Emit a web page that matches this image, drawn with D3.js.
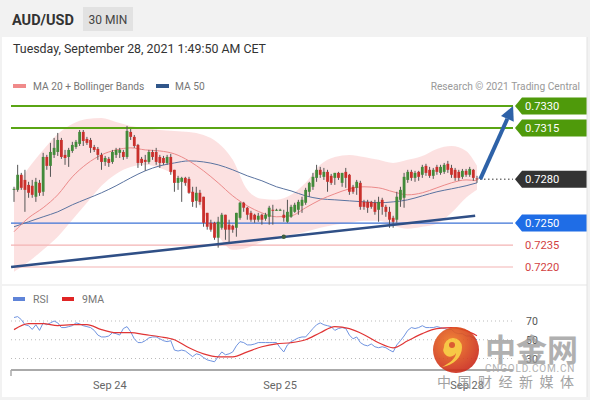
<!DOCTYPE html>
<html><head><meta charset="utf-8">
<script src="https://cdn.jsdelivr.net/npm/d3@7/dist/d3.min.js"></script>
<style>
body{margin:0;background:#fff;}
svg{display:block;font-family:Roboto,"Liberation Sans",Arial,sans-serif;}
</style>
</head><body>
<svg id="chart" width="590" height="400"></svg>
<script>
// ---------- DATA ----------
const symbol = "AUD/USD";
const timeframe = "30 MIN";
const stamp = "Tuesday, September 28, 2021 1:49:50 AM CET";

const open = [0.72727,0.72727,0.72830,0.72795,0.72761,0.72755,0.72680,0.72775,0.72714,0.72952,
0.72891,0.72966,0.72986,0.73068,0.72966,0.72952,0.72993,0.73020,0.73041,0.73123,
0.73075,0.73068,0.73020,0.73007,0.72966,0.72918,0.72939,0.72918,0.72966,0.72980,
0.72986,0.72952,0.73123,0.73089,0.73034,0.72939,0.72932,0.72918,0.72986,0.72986,
0.72952,0.72945,0.72911,0.72952,0.72864,0.72775,0.72782,0.72809,0.72802,0.72714,
0.72652,0.72707,0.72680,0.72570,0.72502,0.72502,0.72400,0.72468,0.72557,0.72489,
0.72482,0.72468,0.72536,0.72639,0.72605,0.72570,0.72557,0.72523,0.72557,0.72530,
0.72543,0.72591,0.72591,0.72591,0.72557,0.72509,0.72543,0.72577,0.72591,0.72618,
0.72639,0.72714,0.72748,0.72809,0.72864,0.72816,0.72850,0.72823,0.72809,0.72843,
0.72775,0.72850,0.72830,0.72748,0.72741,0.72775,0.72645,0.72645,0.72645,0.72639,
0.72591,0.72659,0.72611,0.72577,0.72536,0.72523,0.72659,0.72673,0.72795,0.72850,
0.72809,0.72850,0.72830,0.72891,0.72864,0.72823,0.72884,0.72843,0.72850,0.72905,
0.72877,0.72864,0.72850,0.72816,0.72857,0.72830,0.72864,0.72805];
const high = [0.72748,0.72898,0.72843,0.72864,0.72782,0.72795,0.72809,0.72795,0.72980,0.72966,
0.73048,0.73082,0.73116,0.73082,0.73000,0.73014,0.73055,0.73068,0.73136,0.73136,
0.73089,0.73082,0.73034,0.73020,0.72980,0.72959,0.72952,0.73000,0.73014,0.73014,
0.73000,0.73164,0.73143,0.73102,0.73041,0.72952,0.72966,0.73000,0.73000,0.73014,
0.72966,0.72959,0.72966,0.72973,0.72864,0.72823,0.72816,0.72816,0.72816,0.72748,
0.72748,0.72727,0.72680,0.72570,0.72523,0.72509,0.72543,0.72570,0.72557,0.72523,
0.72489,0.72570,0.72645,0.72645,0.72611,0.72584,0.72564,0.72570,0.72564,0.72570,
0.72618,0.72625,0.72598,0.72598,0.72591,0.72659,0.72625,0.72639,0.72659,0.72680,
0.72741,0.72782,0.72843,0.72898,0.72884,0.72877,0.72864,0.72836,0.72843,0.72850,
0.72843,0.72877,0.72836,0.72761,0.72795,0.72789,0.72659,0.72659,0.72652,0.72659,
0.72680,0.72673,0.72625,0.72611,0.72550,0.72714,0.72748,0.72843,0.72864,0.72864,
0.72857,0.72857,0.72898,0.72905,0.72884,0.72877,0.72898,0.72898,0.72911,0.72925,
0.72898,0.72877,0.72864,0.72870,0.72870,0.72884,0.72870,0.72823];
const low = [0.72645,0.72714,0.72727,0.72577,0.72673,0.72673,0.72645,0.72686,0.72686,0.72864,
0.72816,0.72945,0.72959,0.72939,0.72898,0.72884,0.72980,0.73007,0.73027,0.73027,
0.73034,0.72980,0.72986,0.72932,0.72864,0.72891,0.72884,0.72905,0.72945,0.72945,
0.72932,0.72939,0.73068,0.73014,0.72877,0.72891,0.72857,0.72905,0.72932,0.72898,
0.72877,0.72898,0.72898,0.72830,0.72714,0.72727,0.72645,0.72755,0.72700,0.72611,
0.72605,0.72625,0.72475,0.72455,0.72441,0.72386,0.72332,0.72455,0.72386,0.72366,
0.72434,0.72407,0.72523,0.72577,0.72523,0.72509,0.72502,0.72509,0.72489,0.72516,
0.72489,0.72489,0.72584,0.72584,0.72509,0.72502,0.72536,0.72570,0.72557,0.72570,
0.72625,0.72680,0.72727,0.72782,0.72809,0.72795,0.72714,0.72761,0.72761,0.72795,
0.72748,0.72741,0.72693,0.72700,0.72693,0.72591,0.72591,0.72570,0.72598,0.72557,
0.72509,0.72557,0.72543,0.72468,0.72468,0.72502,0.72611,0.72605,0.72775,0.72789,
0.72782,0.72789,0.72809,0.72823,0.72809,0.72802,0.72830,0.72830,0.72836,0.72843,
0.72809,0.72789,0.72789,0.72802,0.72816,0.72816,0.72789,0.72775];
const close = [0.72734,0.72830,0.72741,0.72727,0.72707,0.72693,0.72782,0.72707,0.72952,0.72891,
0.72986,0.73014,0.73068,0.72952,0.72945,0.73000,0.73034,0.73055,0.73123,0.73061,
0.73048,0.73014,0.73000,0.72966,0.72918,0.72945,0.72911,0.72986,0.73000,0.73000,
0.72952,0.73130,0.73089,0.73027,0.72911,0.72911,0.72918,0.72986,0.72952,0.72918,
0.72911,0.72911,0.72952,0.72850,0.72775,0.72809,0.72809,0.72775,0.72707,0.72645,
0.72707,0.72645,0.72502,0.72475,0.72455,0.72400,0.72509,0.72557,0.72455,0.72455,
0.72455,0.72570,0.72639,0.72605,0.72557,0.72523,0.72523,0.72550,0.72523,0.72557,
0.72605,0.72584,0.72591,0.72591,0.72536,0.72577,0.72611,0.72625,0.72645,0.72659,
0.72727,0.72775,0.72816,0.72864,0.72830,0.72850,0.72782,0.72775,0.72843,0.72809,
0.72843,0.72809,0.72714,0.72714,0.72782,0.72611,0.72611,0.72605,0.72611,0.72577,
0.72645,0.72611,0.72577,0.72523,0.72509,0.72680,0.72727,0.72816,0.72850,0.72809,
0.72843,0.72816,0.72884,0.72843,0.72823,0.72864,0.72850,0.72884,0.72898,0.72864,
0.72830,0.72809,0.72809,0.72857,0.72830,0.72870,0.72809,0.72798];

// indicator samples (candle index)
const maIndex = [0,4,8,12,16,20,24,28,32,36,40,44,48,52,56,60,64,68,72,76,80,84,88,92,96,100,104,108,112,116,120,124,127];
const ma20 = [0.72441,0.72536,0.72605,0.72693,0.72816,0.72905,0.72966,0.73000,0.73014,0.73000,0.72993,0.72973,0.72925,0.72857,0.72775,0.72686,0.72618,0.72570,0.72543,0.72550,0.72605,0.72659,0.72700,0.72734,0.72748,0.72741,0.72714,0.72693,0.72707,0.72741,0.72775,0.72795,0.72789];
const ma50 = [0.72475,0.72509,0.72543,0.72577,0.72625,0.72666,0.72707,0.72755,0.72809,0.72857,0.72891,0.72911,0.72925,0.72918,0.72898,0.72864,0.72823,0.72789,0.72748,0.72720,0.72686,0.72666,0.72659,0.72652,0.72645,0.72639,0.72645,0.72659,0.72686,0.72714,0.72734,0.72755,0.72775];
const bbUpper = [0.72727,0.72877,0.73000,0.73109,0.73177,0.73211,0.73218,0.73191,0.73164,0.73150,0.73136,0.73130,0.73123,0.73102,0.73048,0.72932,0.72727,0.72666,0.72659,0.72693,0.72775,0.72898,0.72952,0.72966,0.72952,0.72932,0.72911,0.72932,0.72959,0.73007,0.73027,0.72993,0.72891];
const bbLower = [0.72168,0.72236,0.72318,0.72407,0.72523,0.72639,0.72755,0.72836,0.72884,0.72898,0.72877,0.72830,0.72727,0.72570,0.72414,0.72318,0.72332,0.72373,0.72407,0.72420,0.72441,0.72468,0.72489,0.72502,0.72516,0.72516,0.72482,0.72461,0.72475,0.72495,0.72570,0.72673,0.72727];

const rsi = [73.7,74.7,71.5,66,65,61,66,60,68,66,
68,70,68,63,63,64,65,68,67,65,
64,63,60,55,53,53,54,57.5,56.5,55,
62,64,58.5,51,47,47,49,52,53,53,
51,49,48,49,39,38,39,38,35,32,
35,34,31,28.5,27.5,26.5,32,37,34,35,
37,43.5,48,47,44.5,44.5,45.5,47,47,47,
47,47,47,41.5,37,44.5,48,50,52,53,
53,57.5,62,66,68,66,65,64,60,62,
63,62,55,51,53,47,44.5,43.5,45.5,42.5,
41.5,42.5,41.5,39,37,44.5,49,54,60,63,
62,63,65,63,63,63,64,63,62,61,
61,57.5,56.5,56.5,54,54,52,50];
const rsiMA = [60.8,67.2,67.2,65.1,66.1,66.1,60.8,57.5,57.5,55.4,53.2,50.0,41.4,34.9,31.7,31.7,37.1,42.5,45.7,46.8,50.0,57.5,64.0,61.8,55.4,46.8,41.4,48.9,56.5,61.8,62.9,59.7,54.3];
const rsiLevels = [70,50,30];

const levels = [
  {p:0.7330, kind:"res"},
  {p:0.7315, kind:"res"},
  {p:0.7280, kind:"last"},
  {p:0.7250, kind:"piv"},
  {p:0.7235, kind:"sup"},
  {p:0.7220, kind:"sup"}
];
const trend = [{i:-0.8, p:0.72200},{i:126.5, p:0.72550}];
const trendDot = {i:74, p:0.72407};
const arrowPts = [{i:127.9, p:0.72800},{i:136.9, p:0.73300}];

const tickIdx = [26.3, 73, 124.3];
const tickLbl = ["Sep 24","Sep 25","Sep 28"];

// ---------- DRAW ----------
const svg = d3.select("#chart");
const W = 590, H = 400;
const plotL = 11, plotR = 513;

const x = d3.scaleLinear().domain([0,127]).range([14,477]);
const y = d3.scaleLinear().domain([0.7220,0.7330]).range([267,106]);
const yr = d3.scaleLinear().domain([30,70]).range([358.5,321]);

// background frame
svg.append("rect").attr("x",0).attr("y",0).attr("width",W).attr("height",H).attr("fill","#f2f2f2");
svg.append("rect").attr("x",2).attr("y",37).attr("width",585).attr("height",247).attr("fill","#fff");
svg.append("rect").attr("x",2).attr("y",286).attr("width",585).attr("height",111).attr("fill","#fff");

// header
svg.append("text").attr("x",12).attr("y",25).attr("font-size",14.5).attr("font-weight","bold").attr("fill","#333").text(symbol);
svg.append("rect").attr("x",83).attr("y",7).attr("width",50).attr("height",24).attr("fill","#e2e2e2");
svg.append("text").attr("x",108).attr("y",23.5).attr("text-anchor","middle").attr("font-size",12).attr("fill","#444").text(timeframe);
svg.append("text").attr("x",13).attr("y",53).attr("font-size",12.4).attr("fill","#333").text(stamp);

// legend
svg.append("rect").attr("x",13).attr("y",84).attr("width",13).attr("height",4).attr("fill","#f08a8a");
svg.append("text").attr("x",33).attr("y",90).attr("font-size",10.2).attr("fill","#777").text("MA 20 + Bollinger Bands");
svg.append("rect").attr("x",156).attr("y",84).attr("width",13).attr("height",4).attr("fill","#30568a");
svg.append("text").attr("x",175).attr("y",90).attr("font-size",10.2).attr("fill","#777").text("MA 50");
svg.append("text").attr("x",580).attr("y",90).attr("text-anchor","end").attr("font-size",10.2).attr("fill","#999").text("Research \u00A9 2021 Trading Central");

// bollinger band
const band = maIndex.map((d,k)=>({i:d,u:bbUpper[k],l:bbLower[k]}));
svg.append("path").datum(band)
  .attr("d", d3.area().x(d=>x(d.i)).y0(d=>y(d.l)).y1(d=>y(d.u)).curve(d3.curveMonotoneX))
  .attr("fill","#fcdcdc").attr("opacity",0.85);

// level lines
levels.forEach(l=>{
  const yy = y(l.p);
  if(l.kind==="res") svg.append("line").attr("x1",plotL).attr("x2",plotR).attr("y1",yy).attr("y2",yy).attr("stroke","#5aa514").attr("stroke-width",2);
  if(l.kind==="piv") svg.append("line").attr("x1",plotL).attr("x2",plotR).attr("y1",yy).attr("y2",yy).attr("stroke","#3d73d6").attr("stroke-width",1.4);
  if(l.kind==="sup") svg.append("line").attr("x1",plotL).attr("x2",plotR).attr("y1",yy).attr("y2",yy).attr("stroke","#f3b3b3").attr("stroke-width",1.2);
  if(l.kind==="last") svg.append("line").attr("x1",x(127)+3).attr("x2",plotR).attr("y1",yy).attr("y2",yy).attr("stroke","#333").attr("stroke-width",1).attr("stroke-dasharray","1.5,2.5");
});

// MAs
const lineGen = d3.line().x(d=>x(d[0])).y(d=>y(d[1])).curve(d3.curveMonotoneX);
svg.append("path").attr("d", lineGen(maIndex.map((d,k)=>[d,ma50[k]]))).attr("fill","none").attr("stroke","#5a73a0").attr("stroke-width",1);
svg.append("path").attr("d", lineGen(maIndex.map((d,k)=>[d,ma20[k]]))).attr("fill","none").attr("stroke","#ec8a8a").attr("stroke-width",1);

// candles
const candles = d3.range(open.length).map(i=>({i,o:open[i],h:high[i],l:low[i],c:close[i]}));
const cg = svg.append("g");
cg.selectAll("line.w").data(candles).join("line")
  .attr("x1",d=>x(d.i)).attr("x2",d=>x(d.i)).attr("y1",d=>y(d.h)).attr("y2",d=>y(d.l))
  .attr("stroke","#555").attr("stroke-width",1);
const bw = 2.8;
cg.selectAll("rect").data(candles).join("rect")
  .attr("x",d=>x(d.i)-bw/2).attr("width",bw)
  .attr("y",d=>y(Math.max(d.o,d.c)))
  .attr("height",d=>Math.max(1,Math.abs(y(d.o)-y(d.c))))
  .attr("fill",d=>d.c>=d.o?"#428a3a":"#c9302c");

// trend line
svg.append("line").attr("x1",x(trend[0].i)).attr("y1",y(trend[0].p)).attr("x2",x(trend[1].i)).attr("y2",y(trend[1].p))
  .attr("stroke","#2f4f86").attr("stroke-width",2.6);
svg.append("circle").attr("cx",x(trendDot.i)).attr("cy",y(trendDot.p)).attr("r",2.2).attr("fill","#41603f");

// arrow
{
  const x1=x(arrowPts[0].i), y1=y(arrowPts[0].p), x2=x(arrowPts[1].i), y2=y(arrowPts[1].p);
  const ang=Math.atan2(y2-y1,x2-x1), hl=14, hw=7;
  const bx=x2-hl*Math.cos(ang), by=y2-hl*Math.sin(ang);
  svg.append("line").attr("x1",x1).attr("y1",y1).attr("x2",bx).attr("y2",by).attr("stroke","#2e62a8").attr("stroke-width",4);
  const px=-Math.sin(ang), py=Math.cos(ang);
  svg.append("path").attr("d",`M${x2},${y2}L${bx+px*hw},${by+py*hw}L${bx-px*hw},${by-py*hw}Z`).attr("fill","#2e62a8");
}

// level labels
levels.forEach(l=>{
  const yy=y(l.p), x0=515;
  const txt=d3.format(".4f")(l.p);
  if(l.kind==="sup"){
    svg.append("text").attr("x",525).attr("y",yy+4).attr("font-size",11.2).attr("fill","#d23f3f").text(txt);
    return;
  }
  const fill = l.kind==="res"?"#4f9a0b":(l.kind==="piv"?"#1f6de6":"#333333");
  svg.append("path").attr("d",`M${x0},${yy}L${x0+7},${yy-8.5}L587,${yy-8.5}L587,${yy+8.5}L${x0+7},${yy+8.5}Z`).attr("fill",fill);
  svg.append("text").attr("x",525).attr("y",yy+4).attr("font-size",11.2).attr("fill","#fff").text(txt);
});

// separators
svg.append("line").attr("x1",587).attr("x2",587).attr("y1",37).attr("y2",397).attr("stroke","#e2e2e2");

// RSI panel
svg.append("rect").attr("x",13).attr("y",297).attr("width",12).attr("height",4).attr("fill","#5f84d8");
svg.append("text").attr("x",33).attr("y",303).attr("font-size",10.5).attr("fill","#777").text("RSI");
svg.append("rect").attr("x",62).attr("y",297).attr("width",12).attr("height",4).attr("fill","#e02525");
svg.append("text").attr("x",82).attr("y",303).attr("font-size",10.5).attr("fill","#777").text("9MA");

rsiLevels.forEach(v=>{
  svg.append("line").attr("x1",plotL).attr("x2",plotR).attr("y1",yr(v)).attr("y2",yr(v))
    .attr("stroke","#bbb").attr("stroke-width",1).attr("stroke-dasharray","1,3");
  svg.append("text").attr("x",526).attr("y",yr(v)+4).attr("font-size",10.5).attr("fill","#555").text(v);
});
svg.append("path").attr("d", d3.line().x((d,i)=>x(i)).y(d=>yr(d))(rsi)).attr("fill","none").attr("stroke","#7094e0").attr("stroke-width",1);
svg.append("path").attr("d", d3.line().x(d=>x(d[0])).y(d=>yr(d[1])).curve(d3.curveMonotoneX)(maIndex.map((d,k)=>[d,rsiMA[k]])))
  .attr("fill","none").attr("stroke","#e03535").attr("stroke-width",1.2);

// time axis
const ax = svg.append("g").attr("transform","translate(0,370)");
ax.append("line").attr("x1",plotL).attr("x2",plotR).attr("y1",0).attr("y2",0).attr("stroke","#aaa").attr("stroke-width",2);
ax.append("line").attr("x1",plotL).attr("x2",plotL).attr("y1",0).attr("y2",6).attr("stroke","#aaa").attr("stroke-width",1.5);
tickIdx.forEach((t,k)=>{
  ax.append("text").attr("x",x(t)).attr("y",19).attr("text-anchor","middle").attr("font-size",11).attr("fill","#666").text(tickLbl[k]);
});

// watermark
const wm = svg.append("g").attr("opacity",0.9);
const grad = svg.append("defs").append("radialGradient").attr("id","lg").attr("cx","40%").attr("cy","35%").attr("r","70%");
grad.append("stop").attr("offset","0%").attr("stop-color","#f07a22");
grad.append("stop").attr("offset","100%").attr("stop-color","#c9261b");
wm.append("circle").attr("cx",456).attr("cy",350).attr("r",23).attr("fill","url(#lg)");
wm.append("path").attr("d","M444,347 a9,9 0 1,1 18,0 c0,10 -8,18 -20,20 c8,-4 14,-9 14,-14 a6,6 0 0,1 -12,-6z").attr("fill","#f7c233");
wm.append("circle").attr("cx",452).attr("cy",345).attr("r",3).attr("fill","#d84a1c");
wm.append("text").attr("x",485).attr("y",361).attr("font-size",31).attr("font-weight","bold").attr("fill","#9a9a9a").attr("opacity",0.85)
  .attr("font-family","Noto Sans CJK SC").text("中金网");
wm.append("text").attr("x",485).attr("y",372).attr("font-size",10).attr("fill","#aaa").attr("letter-spacing",0.8).text("CNGOLD.COM.CN");
wm.append("text").attr("x",437).attr("y",387).attr("font-size",14).attr("fill","#999").attr("letter-spacing",6.5)
  .attr("font-family","Noto Sans CJK SC").text("中国财经新媒体");
</script>
</body></html>
